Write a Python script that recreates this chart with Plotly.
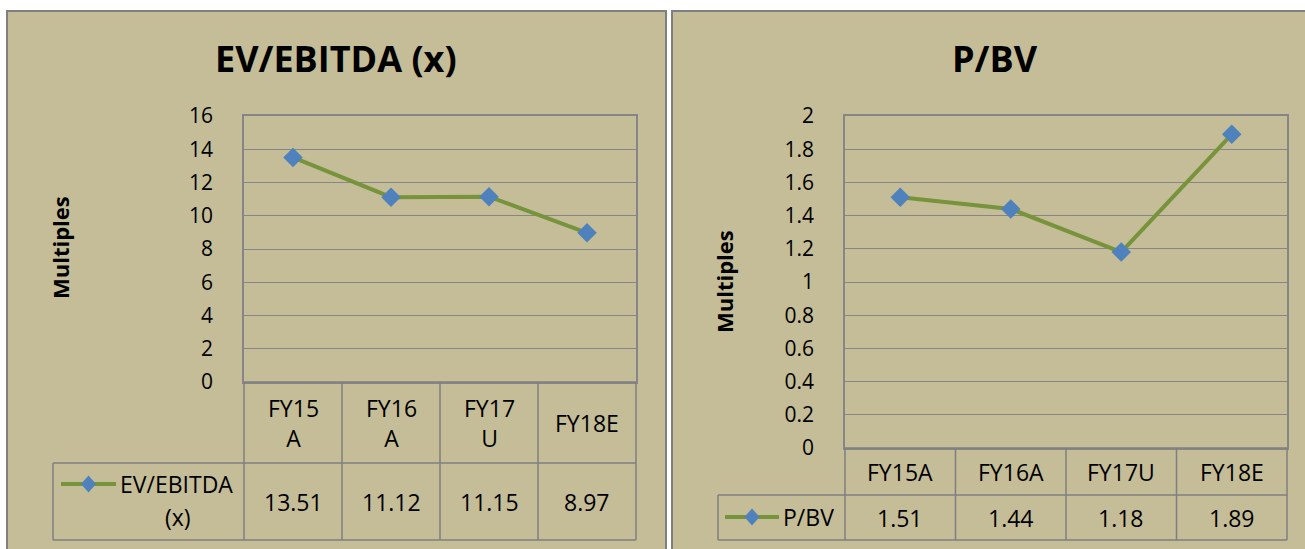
import plotly.graph_objects as go

W, H = 1305, 549

# ---- data ----
periods = ["FY15A", "FY16A", "FY17U", "FY18E"]
ev_header = ["FY15<br>A", "FY16<br>A", "FY17<br>U", "FY18E"]
pbv_header = ["FY15A", "FY16A", "FY17U", "FY18E"]
ev_ebitda = [13.51, 11.12, 11.15, 8.97]
p_bv = [1.51, 1.44, 1.18, 1.89]
ev_ticks = [0, 2, 4, 6, 8, 10, 12, 14, 16]
pbv_ticks = [0, 0.2, 0.4, 0.6, 0.8, 1, 1.2, 1.4, 1.6, 1.8, 2]

# ---- style ----
PANEL = "#C4BD97"
BORDER = "#7F7F7F"
GRID = "#868686"
LINE = "#77933C"
MARK = "#4F81BD"
FONT = "Open Sans"
TXT = "#000000"
TSIZE = 23


def fx(x):
    return x / W


def fy(y):
    return 1 - y / H


fig = go.Figure()

# pixel geometry of both panels
L = dict(px0=244, px1=636, py0=116, py1=382, hdr=463, bot=540, lab=53)
R = dict(px0=845, px1=1287, py0=116, py1=448, hdr=495, bot=540, lab=718)

for xa, ya, vals in [("x", "y", ev_ebitda), ("x2", "y2", p_bv)]:
    fig.add_trace(go.Scatter(
        x=periods, y=vals, mode="lines+markers", xaxis=xa, yaxis=ya,
        line=dict(color=LINE, width=4),
        marker=dict(symbol="diamond", size=15, color=MARK),
        showlegend=False, hoverinfo="skip"))

xcommon = dict(type="category", range=[-0.5, 3.5], showticklabels=False,
               showgrid=False, zeroline=False, showline=True, mirror=True,
               linecolor=GRID, linewidth=1.5, fixedrange=True)
ycommon = dict(showgrid=True, gridcolor=GRID, gridwidth=1.2, zeroline=False,
               showline=True, mirror=True, linecolor=GRID, linewidth=1.5,
               ticks="", ticklabelstandoff=25,
               tickfont=dict(family=FONT, size=21, color=TXT), fixedrange=True)

fig.update_layout(
    width=W, height=H, margin=dict(l=0, r=0, t=0, b=0, autoexpand=False),
    paper_bgcolor="white", plot_bgcolor="white",
    xaxis=dict(domain=[fx(L["px0"]), fx(L["px1"])], anchor="y", **xcommon),
    yaxis=dict(domain=[fy(L["py1"]), fy(L["py0"])], anchor="x",
               range=[0, 16], tickvals=ev_ticks, **ycommon),
    xaxis2=dict(domain=[fx(R["px0"]), fx(R["px1"])], anchor="y2", **xcommon),
    yaxis2=dict(domain=[fy(R["py1"]), fy(R["py0"])], anchor="x2",
                range=[0, 2], tickvals=pbv_ticks,
                ticktext=[f"{v:g}" for v in pbv_ticks], **ycommon),
)

shapes = []
ann = []

# panel backgrounds
for x0, x1 in [(7, 666), (672, 1312)]:
    shapes.append(dict(type="rect", xref="paper", yref="paper", layer="below",
                       x0=fx(x0), x1=fx(x1), y0=fy(560), y1=fy(11),
                       fillcolor=PANEL, line=dict(color=BORDER, width=2)))


def hline(x0, x1, y):
    shapes.append(dict(type="line", xref="paper", yref="paper",
                       x0=fx(x0), x1=fx(x1), y0=fy(y), y1=fy(y),
                       line=dict(color=BORDER, width=1.5)))


def vline(x, y0, y1):
    shapes.append(dict(type="line", xref="paper", yref="paper",
                       x0=fx(x), x1=fx(x), y0=fy(y0), y1=fy(y1),
                       line=dict(color=BORDER, width=1.5)))


def table(g, xr, header, values, fmt):
    n = len(header)
    colw = (g["px1"] - g["px0"]) / n
    hline(g["px0"], g["px1"], g["py1"])
    hline(g["lab"], g["px1"], g["hdr"])
    hline(g["lab"], g["px1"], g["bot"])
    for i in range(n + 1):
        vline(g["px0"] + i * colw, g["py1"], g["bot"])
    vline(g["lab"], g["hdr"], g["bot"])
    for i, (h, v) in enumerate(zip(header, values)):
        ann.append(dict(x=periods[i], xref=xr, y=fy((g["py1"] + g["hdr"]) / 2),
                        yref="paper", text=h, showarrow=False,
                        font=dict(family=FONT, size=TSIZE, color=TXT),
                        xanchor="center", yanchor="middle"))
        ann.append(dict(x=periods[i], xref=xr, y=fy((g["hdr"] + g["bot"]) / 2),
                        yref="paper", text=fmt(v), showarrow=False,
                        font=dict(family=FONT, size=TSIZE, color=TXT),
                        xanchor="center", yanchor="middle"))


table(L, "x", ev_header, ev_ebitda, lambda v: f"{v:.2f}")
table(R, "x2", pbv_header, p_bv, lambda v: f"{v:.2f}")


def legend_key(x0, x1, y):
    shapes.append(dict(type="line", xref="paper", yref="paper",
                       x0=fx(x0), x1=fx(x1), y0=fy(y), y1=fy(y),
                       line=dict(color=LINE, width=4)))
    cx, rx, ry = (x0 + x1) / 2, 7.5, 8.5
    path = (f"M {fx(cx)},{fy(y - ry)} L {fx(cx + rx)},{fy(y)} "
            f"L {fx(cx)},{fy(y + ry)} L {fx(cx - rx)},{fy(y)} Z")
    shapes.append(dict(type="path", xref="paper", yref="paper", path=path,
                       fillcolor=MARK, line=dict(width=0)))


legend_key(61, 116, 484)
ann.append(dict(x=fx(118), y=fy(484), xref="paper", yref="paper",
                text="EV/EBITDA", showarrow=False, xanchor="left",
                yanchor="middle", font=dict(family=FONT, size=TSIZE, color=TXT)))
ann.append(dict(x=fx(178), y=fy(517), xref="paper", yref="paper",
                text="(x)", showarrow=False, xanchor="center",
                yanchor="middle", font=dict(family=FONT, size=TSIZE, color=TXT)))
legend_key(725, 779, 517)
ann.append(dict(x=fx(781), y=fy(517), xref="paper", yref="paper",
                text="P/BV", showarrow=False, xanchor="left",
                yanchor="middle", font=dict(family=FONT, size=TSIZE, color=TXT)))

# titles
for x, t in [(336, "EV/EBITDA (x)"), (995, "P/BV")]:
    ann.append(dict(x=fx(x), y=fy(58), xref="paper", yref="paper",
                    text=f"<b>{t}</b>", showarrow=False, xanchor="center",
                    yanchor="middle", font=dict(family=FONT, size=36, color=TXT)))

# rotated axis titles
for x, y in [(60, 248), (724, 282)]:
    ann.append(dict(x=fx(x), y=fy(y), xref="paper", yref="paper",
                    text="<b>Multiples</b>", showarrow=False, textangle=-90,
                    xanchor="center", yanchor="middle",
                    font=dict(family=FONT, size=22, color=TXT)))

fig.update_layout(shapes=shapes, annotations=ann)
fig.write_html("out.html")
